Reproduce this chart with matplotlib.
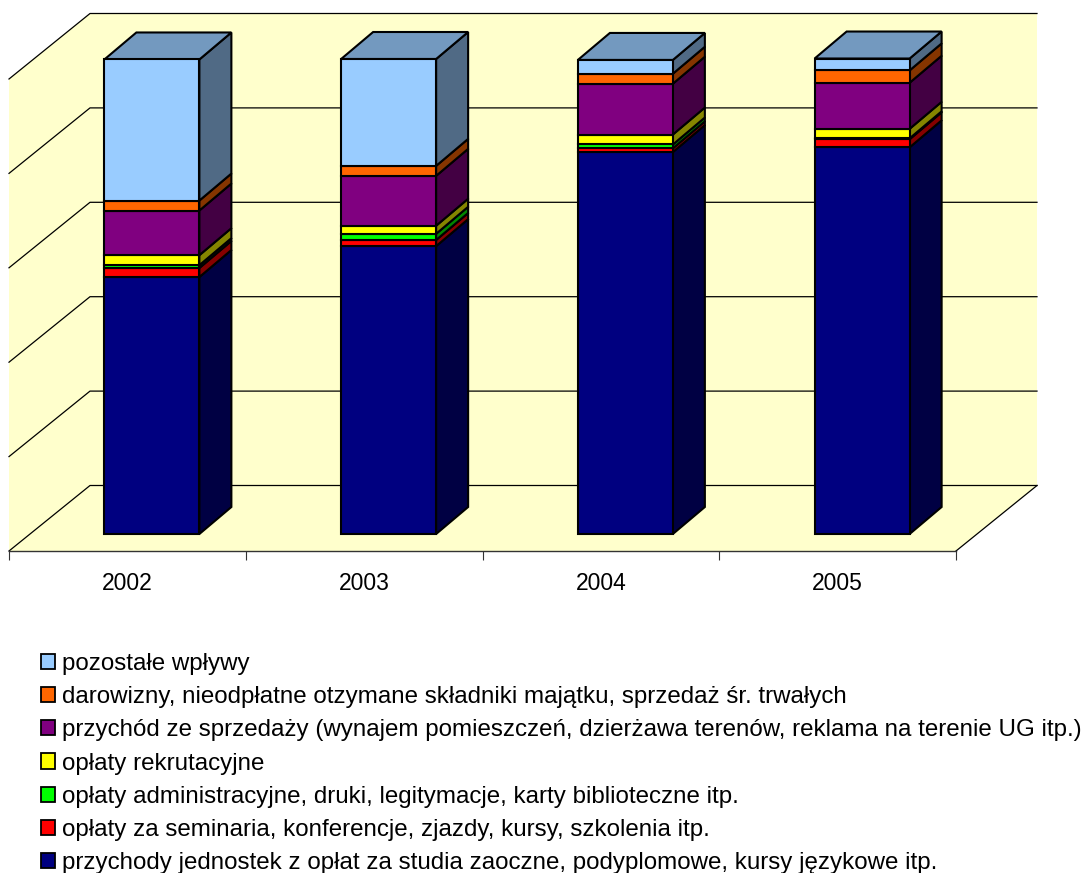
import matplotlib
matplotlib.use('Agg')
import matplotlib.pyplot as plt
from matplotlib.patches import Polygon, Patch

years = ['2002', '2003', '2004', '2005']

# shares, bottom of the stack first, percent
jednostki = [54.1, 60.6, 80.4, 81.4]
seminaria = [1.9, 1.3, 0.8, 1.7]
administracyjne = [0.6, 1.3, 0.8, 0.2]
rekrutacyjne = [2.1, 1.7, 2.1, 2.0]
sprzedaz = [9.4, 10.5, 10.7, 9.7]
darowizny = [2.1, 2.1, 2.1, 2.6]
pozostale = [29.7, 22.5, 2.9, 2.5]

labels = [
    'przychody jednostek z opłat za studia zaoczne, podyplomowe, kursy językowe itp.',
    'opłaty za seminaria, konferencje, zjazdy, kursy, szkolenia itp.',
    'opłaty administracyjne, druki, legitymacje, karty biblioteczne itp.',
    'opłaty rekrutacyjne',
    'przychód ze sprzedaży (wynajem pomieszczeń, dzierżawa terenów, reklama na terenie UG itp.)',
    'darowizny, nieodpłatne otzymane składniki majątku, sprzedaż śr. trwałych',
    'pozostałe wpływy',
]
series = [jednostki, seminaria, administracyjne, rekrutacyjne, sprzedaz, darowizny, pozostale]
colors = ['#000080', '#ff0000', '#00ff00', '#ffff00', '#800080', '#ff6600', '#99ccff']
grid_values = [0, 20, 40, 60, 80, 100]

W, H = 1083, 873
WALL = '#ffffcc'

plt.rcParams['font.family'] = ['Liberation Sans', 'DejaVu Sans']
fig = plt.figure(figsize=(W / 100, H / 100), dpi=100)
# axes box is the front plane of the floor: x 9..956 px, y 551..79 px
ax = fig.add_axes([9 / W, 1 - 551 / H, 947 / W, 472 / H])
ax.set_xlim(0, len(years))
ax.set_ylim(0, 100)
ax.patch.set_visible(False)

px_x = len(years) / 947.0
px_y = 100 / 472.0
# fake 3d offset of the back wall
wall_dx = 81 * px_x
wall_dy = 65.5 * px_y


def add_poly(pts, fc, ec='black', lw=1.5, z=3):
    ax.add_patch(Polygon(pts, closed=True, facecolor=fc, edgecolor=ec, linewidth=lw,
                         zorder=z, clip_on=False, joinstyle='miter'))


def shade(c, f):
    r, g, b = matplotlib.colors.to_rgb(c)
    return (r * f, g * f, b * f)


n = len(years)
add_poly([(0, 0), (0, 100), (wall_dx, 100 + wall_dy), (n + wall_dx, 100 + wall_dy),
          (n + wall_dx, wall_dy), (n, 0)], WALL, ec='none', z=0)
for v in grid_values:
    ax.plot([0, wall_dx, n + wall_dx], [v, v + wall_dy, v + wall_dy], color='black', lw=0.9,
            zorder=1, clip_on=False)
ax.plot([n, n + wall_dx], [0, wall_dy], color='black', lw=0.9, zorder=1, clip_on=False)

# bars, 3d box drawn by hand
bar_w = 95 * px_x
bar_scale = 475 / 472.0
shift_x = 24.5 * px_x - bar_w / 2
shift_y = 17 * px_y
dep_x = 32 * px_x
dep_y = 27 * px_y
for i in range(n):
    left = i + 0.5 + shift_x
    right = left + bar_w
    bottom = shift_y
    for vals, c in zip(series, colors):
        top = bottom + vals[i] * bar_scale
        add_poly([(right, bottom), (right + dep_x, bottom + dep_y),
                  (right + dep_x, top + dep_y), (right, top)], shade(c, 0.52))
        add_poly([(left, bottom), (right, bottom), (right, top), (left, top)], c, z=4)
        bottom = top
    add_poly([(left, bottom), (right, bottom), (right + dep_x, bottom + dep_y),
              (left + dep_x, bottom + dep_y)], shade(colors[-1], 0.75))

for s in ['top', 'left', 'right']:
    ax.spines[s].set_visible(False)
ax.spines['bottom'].set_color('#333333')
ax.spines['bottom'].set_linewidth(1.0)
ax.set_yticks([])
ax.set_xticks(range(n + 1))
ax.set_xticklabels([])
ax.set_xticks([i + 0.5 for i in range(n)], minor=True)
ax.set_xticklabels(years, minor=True, fontsize=16.5)
ax.tick_params(axis='x', which='major', length=6.5, width=0.8, color='#333333')
ax.tick_params(axis='x', which='minor', length=0, pad=15)

handles = [Patch(facecolor=c, edgecolor='black', linewidth=1.3) for c in colors]
leg = fig.legend(handles[::-1], labels[::-1], loc='upper left',
                 bbox_to_anchor=(36 / W, 1 - 648 / H), frameon=False, fontsize=17.4,
                 handlelength=0.58, handleheight=0.58, handletextpad=0.3,
                 labelspacing=0.465, borderaxespad=0, borderpad=0.2)

plt.savefig('out.png', dpi=100)
